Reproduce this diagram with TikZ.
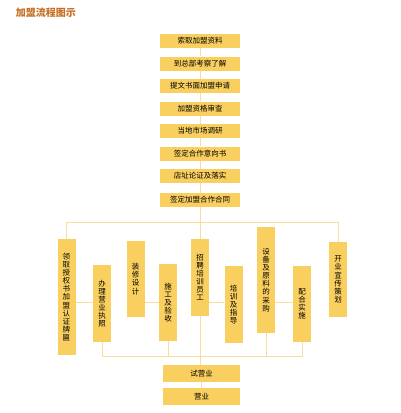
\documentclass[tikz,border=0pt]{standalone}
\usepackage{fontspec}
\setmainfont{Noto Sans CJK SC}
\usepackage{tikz}
\usetikzlibrary{positioning}
\definecolor{jmyellow}{RGB}{249,208,96}
\definecolor{jmline}{RGB}{246,222,160}
\definecolor{jmtitle}{RGB}{196,112,36}
\tikzstyle{stage} = [rectangle, minimum width=80pt, minimum height=14pt, inner sep=0pt, fill=jmyellow, font=\fontsize{7.5}{8}\selectfont, text centered]
\tikzstyle{vstage} = [rectangle, minimum width=18pt, inner sep=0pt, fill=jmyellow, font=\fontsize{7.5}{8.1}\selectfont, align=center]
\tikzstyle{link} = [line width=0.8pt, color=jmline]

\begin{document}
\begin{tikzpicture}[x=1pt, y=-1pt]
\useasboundingbox (0,0) rectangle (400,413);
% Title
\node[font=\fontsize{10}{10}\selectfont\bfseries, text=jmtitle] (title) at (46,12.5) {加盟流程图示};

% Preparation steps
\node[stage] (s1) at (200,41) {索取加盟资料};
\node[stage] (s2) at (200,63.5) {到总部考察了解};
\node[stage] (s3) at (200,86) {提文书面加盟申请};
\node[stage] (s4) at (200,108.5) {加盟资格审查};
\node[stage] (s5) at (200,131) {当地市场调研};
\node[stage] (s6) at (200,153.5) {签定合作意向书};
\node[stage] (s7) at (200,176) {店址论证及落实};
\node[stage] (s8) at (200,200) {签定加盟合作合同};

\draw[link] (s1) -- (s2);
\draw[link] (s2) -- (s3);
\draw[link] (s3) -- (s4);
\draw[link] (s4) -- (s5);
\draw[link] (s5) -- (s6);
\draw[link] (s6) -- (s7);
\draw[link] (s7) -- (s8);

% Parallel work
\node[vstage, minimum height=116pt] (v1) at (66.5,297) {领\\取\\授\\权\\书\\加\\盟\\认\\证\\牌\\匾};
\node[vstage, minimum height=77pt] (v2) at (102,303.5) {办\\理\\营\\业\\执\\照};
\node[vstage, minimum height=76pt] (v3) at (135.5,279) {装\\修\\设\\计};
\node[vstage, minimum height=77pt] (v4) at (168,302.5) {施\\工\\及\\验\\收};
\node[vstage, minimum height=77pt] (v5) at (200,277.5) {招\\聘\\培\\训\\员\\工};
\node[vstage, minimum height=77pt] (v6) at (233.5,304.5) {培\\训\\及\\指\\导};
\node[vstage, minimum height=106pt] (v7) at (266,280) {设\\备\\及\\原\\料\\的\\采\\购};
\node[vstage, minimum height=76pt] (v8) at (302,304) {配\\合\\实\\施};
\node[vstage, minimum height=75pt] (v9) at (338,279.5) {开\\业\\宣\\传\\策\\划};

\coordinate (tl) at (66.5,222);
\coordinate (tr) at (338,222);
\coordinate (hrow) at (0,302);
\coordinate (bl) at (102,356);
\coordinate (br) at (302,356);

\draw[link] (v1.north) -- (tl) -- (tr) -- (v9.north);
\draw[link] (s8) -- (v5);
\draw[link] (v1.east |- hrow) -- (v2.west |- hrow);
\draw[link] (v3.east |- hrow) -- (v4.west |- hrow);
\draw[link] (v5.east |- hrow) -- (v6.west |- hrow);
\draw[link] (v7.east |- hrow) -- (v8.west |- hrow);
\draw[link] (v2.south) -- (bl) -- (br) -- (v8.south);
\draw[link] (v4.south) -- (v4.south |- bl);
\draw[link] (v7.south) -- (v7.south |- bl);

% Opening
\node[stage, minimum width=77pt, minimum height=17pt] (t1) at (201.5,373.5) {试营业};
\node[stage, minimum width=77pt, minimum height=17pt] (t2) at (201.5,396.5) {营业};

\draw[link] (v5) -- (v5 |- t1.north);
\draw[link] (t1) -- (t2);
\end{tikzpicture}
\end{document}
